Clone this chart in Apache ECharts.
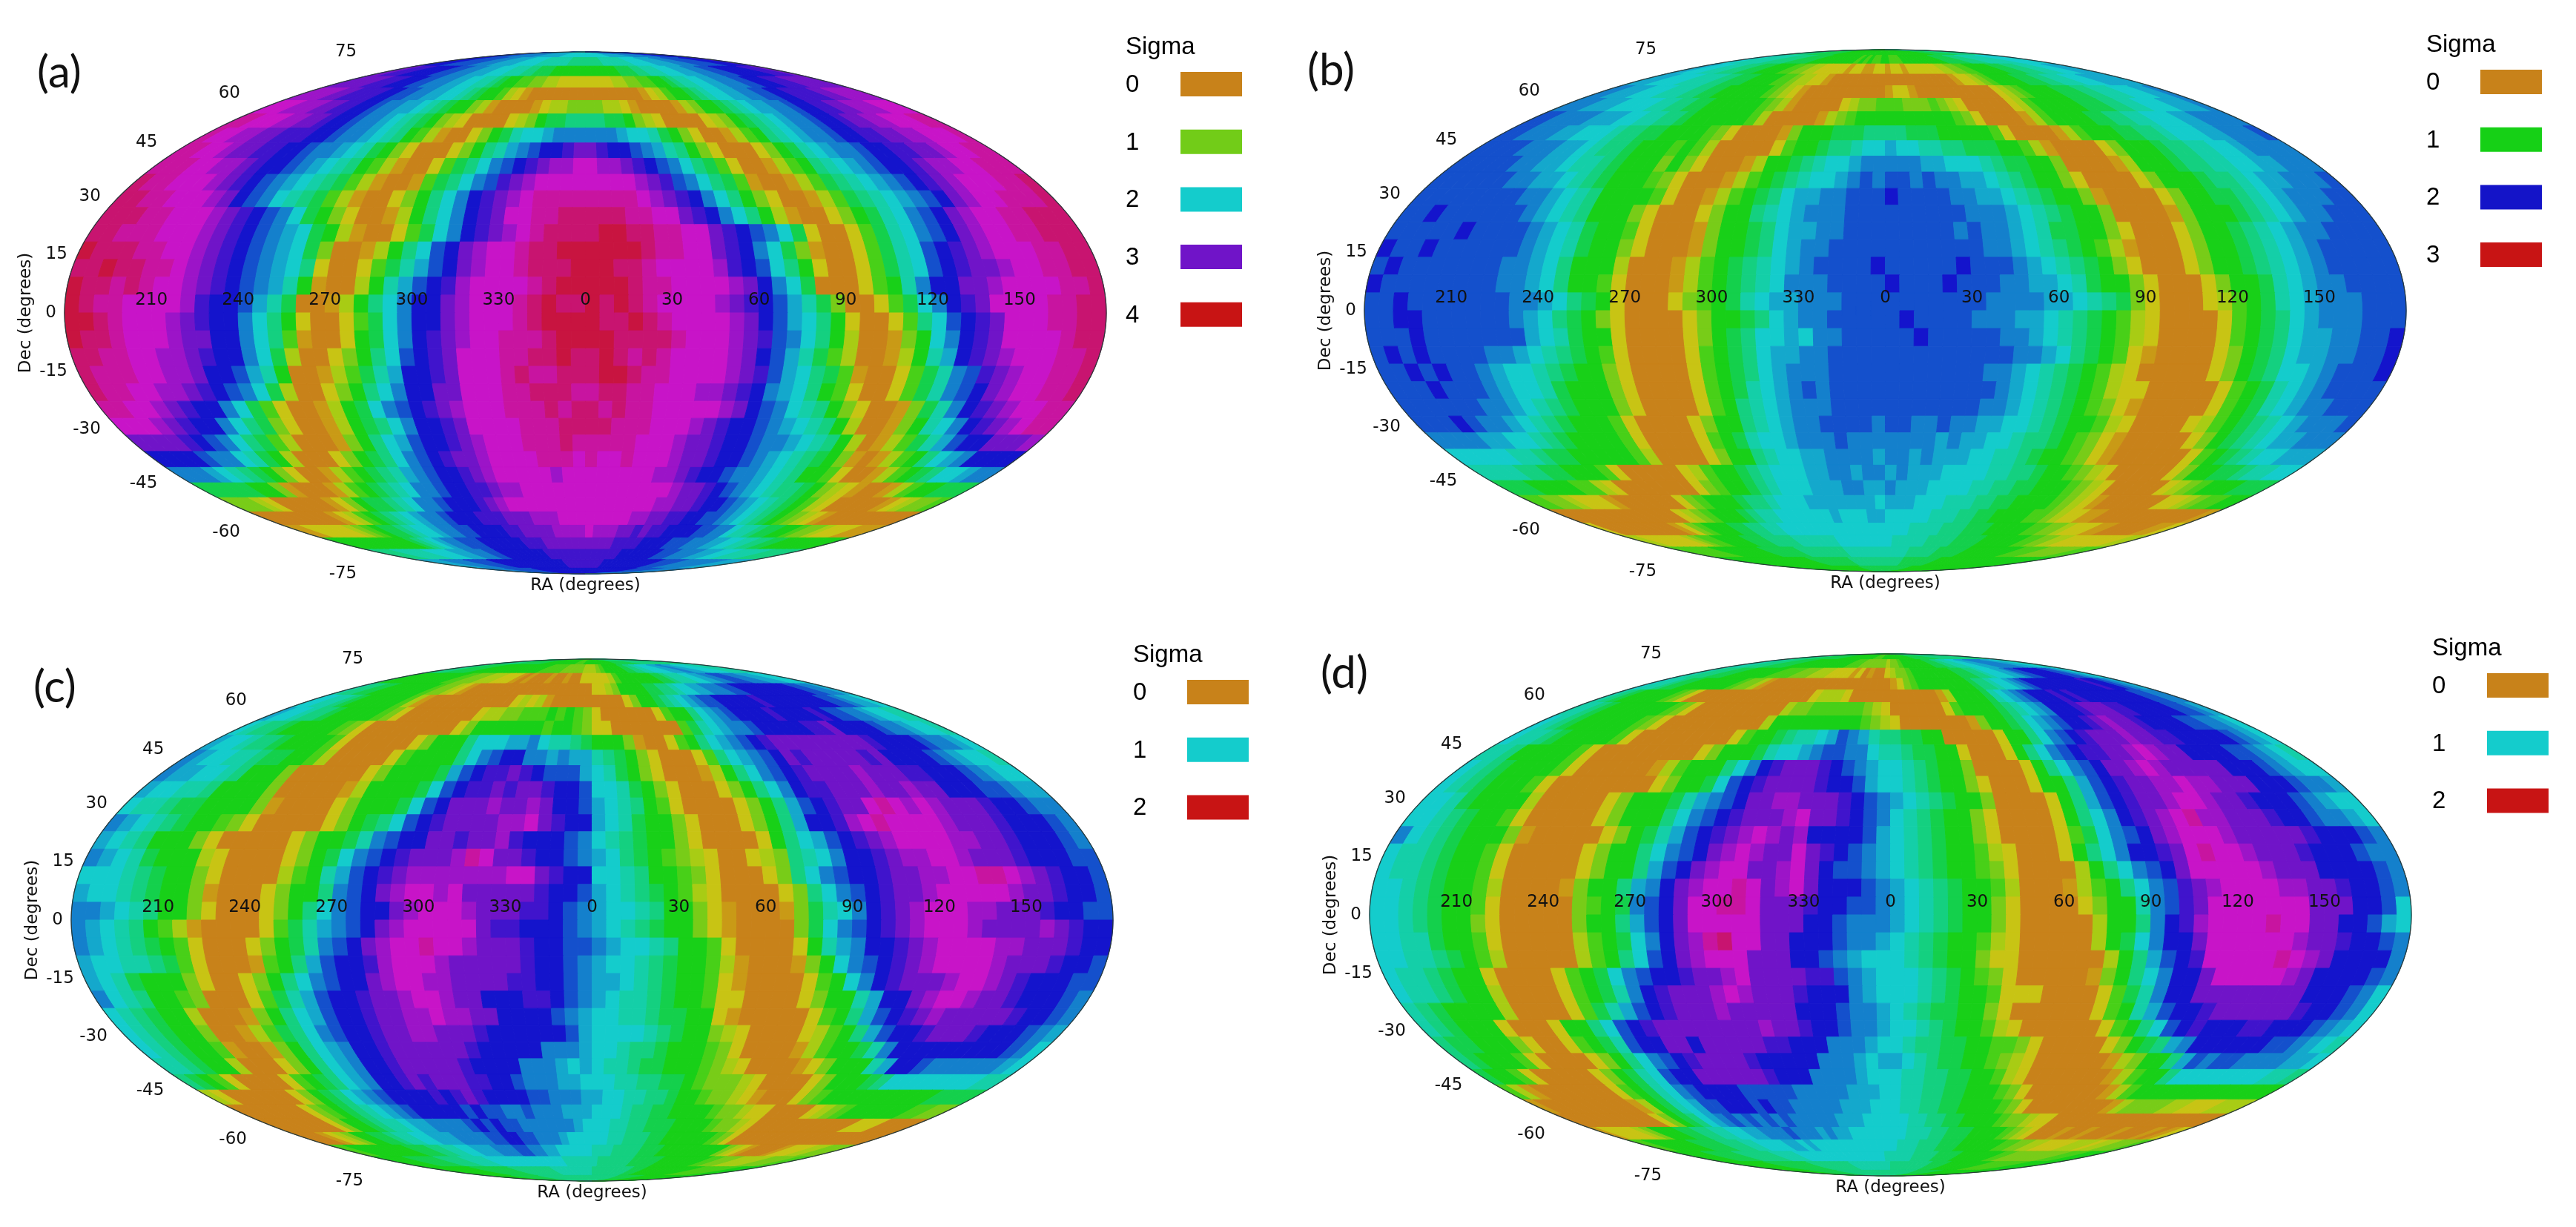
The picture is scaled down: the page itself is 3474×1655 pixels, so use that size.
<!DOCTYPE html>
<html>
<head>
<meta charset="utf-8">
<title>Sigma sky maps</title>
<script src="https://cdn.jsdelivr.net/npm/echarts@6/dist/echarts.min.js"></script>
<style>
html, body { margin: 0; padding: 0; background: #fff; }
#chart { width: 100vw; height: 100vh; }
</style>
</head>
<body>
<div id="chart"></div>
<script>
// tick labels
var raLabels = [[-150, '210'], [-120, '240'], [-90, '270'], [-60, '300'], [-30, '330'], [0, '0'], [30, '30'], [60, '60'], [90, '90'], [120, '120'], [150, '150']];
var decLabels = [75, 60, 45, 30, 15, 0, -15, -30, -45, -60, -75];

// colour levels, a = sigma 0 ... w = top of the scale
var levels = 'abcdefghijklmnopqrstuvw';
var levelColors = ['#c8821a', '#c99a16', '#c8c414', '#a8cc14', '#78cc18', '#48d018', '#18d018', '#14d04c', '#14d080', '#14cfa8', '#14cccc', '#14a8cc', '#1480cc', '#1450cc', '#1414cc', '#4014cc', '#7014c8', '#9c14c8', '#c814c8', '#c814a0', '#c81470', '#c81440', '#c81414'];

// legends
var sigmaA = ['0', '1', '2', '3', '4'];
var sigmaB = ['0', '1', '2', '3'];
var sigmaC = ['0', '1', '2'];
var sigmaD = ['0', '1', '2'];
var swatchA = ['#c8821a', '#72cc18', '#14cccc', '#7014c8', '#c81414'];
var swatchB = ['#c8821a', '#16d016', '#1414c8', '#c81414'];
var swatchC = ['#c8821a', '#14cccc', '#c81414'];
var swatchD = ['#c8821a', '#14cccc', '#c81414'];

// cells, north to south in 5 degree rows, lon -180 to 180 in 5 degree columns
var mapA = [
'ooooonnnn mmmmmmmmm lllllllll kkkkkkkkk kkkkkkkkk lllllllll mmmmmmmmm nnnnooooo',
'poooonnnn nnmmmmlll llkkkkkjj jjjjjiiii iiiijjjjj jjkkkkkll lllmmmmnn nnnnoooop',
'qqpppoooo onnnmmmll lkkkjjjii hhhgggggg gggggghhh iijjjkkkl llmmmnnno ooooopppq',
'qqqqqpppo oonnmmmll kkjjihggf feeddcccc ccccddeef fgghijjkk llmmmnnoo opppqqqqq',
'rrrrqqppp poonnmmll kkjihggfd cbaaaaaaa aaaaaaabc dfgghijkk llmmnnoop pppqqrrrr',
'sssrrrqqp poonmmllk jihggedba aaabcddee eeddcbaaa abdegghij kllmmnoop pqqrrrsss',
'ttsssrrqq poonmmlkj ihgedcaaa acdeghhii iihhgedca aaacdeghi jklmmnoop qqrrssstt',
'tssrrqqpp poonmmlkj igfdbaace ghjkklmmm mmmlkkjhg ecaabdfgi jklmmnoop pqqrrssst',
'ttssrqqpp oonmmlkjh gecaaaceg ijlmnoopq qpoonmlji gecaaaceg hjklmmnoo ppqqrsstt',
'tttssrrqp oonmlkjig fdbaacfhi kmnopqrrs srrqponmk ihfcaabdf gijklmnoo pqrrssttt',
'uttsssrqp onmlkjihf dbaabfhik mnpqrssss ssssrqpnm kihfbaabd fhijklmno pqrsssttu',
'uuttsssrq onmkjihfd baacegikm opqrstttt ttttsrqpo mkigecaab dfhijklmn oqrsstttu',
'uuuttsssr qponmkhge caabdgikm opqssttuu uuuttssqp omkigdbaa ceghjkmno qrssttuuu',
'uutttsssr qponmlkhg dbaacfhkm opqrstuuu uvvuuttss qponmkhca acfhjkmno qrssttuuu',
'vuuuttssr qponmlkhe aabdgikno qrsstuuvv vvvvuttss qpomkheba acfhjknop qrsssttuu',
'uuvuuttsr qponmlkic aacfhjlno qrsstuuuv vvuutssss rponkigca acfhjknop qqrssttuu',
'vuututssr qponmljgb aadgjlnop rsssstuvv vvvuttsss srqomkhaa acfgjmooq qrssssttu',
'vuttssssr poonljhaa bdgikmooq rssstuvuu vuvutssss rqponljhe aacfhkmop qssssttuu',
'vvutsssrq poomkigca acfhkmooq rssstuvvv vuuvutsss srqonlkig caacfikno pqsssttuu',
'vuutsssrq qoomkifba acghkmopq rsstttuvv vvuuuutss srqpnmkig daabegkmo pqsssstuu',
'uuttssrrq poomkhdaa cegiknopq sssttuuvu uvututsss srqonljhf daabdgjlo pqrsssttu',
'utttssrrq oonljgaab dfhjloopq ssstuttuu uvvuttsss srqpnlkih fbaacfhjm npqrssttu',
'uttssrrqp onmkhdaac egikmooqq sssttuuut tuuttsssr rqpomlkig fcaacfhjm noqrssttu',
'ttssrqpoo mkhfcaabd ghkmnopqr ssstttutu ututtssss srqonmkji gecaabehj mopqrsstt',
'sssrqpoom kihecaabd ghikmoopq sssstttuu uutttsssr qpoonmlkj igdaabegj kmopqrstt',
'qqqqponmk ihfdaaabe giklnoopq rssstttut ttttsssrq qpoonmmlk jigdabdfh jlnooqqqr',
'oooonmmkj hgdaaaceg hikmnopqq rssssttts tsstsssrq qpoonmlkj ihgebabdf giklmoooo',
'mmmlkjihg ecaabdfgh ijlmnoopq rsssssrss ssssssrrq poonmmlkj iggfcaabd fghikklmm',
'hhhhhggeb aaabdfghi jkmmnoopp qrrssssss ssssssssr qqponmlkj iihgedcba abdfgghhh',
'eeedcaaaa abceghhij kmmnooopq rssssssss sssssssrr qqpoonmlk jihgfdcaa aaabcdeef',
'aaaaaaaab cdfghijkl mmnoooppp qqqrrrsss sssssrrqq ppoonnmlk jihgfedcb aaaaaaaaa',
'bbcccccde fghhijkkl mmnnoooop pqqqqrrrr srrrqqpqp poooonnmm kjjihhggf eedcccbbb',
'ggggggggg gghijklmm nnnoooooo pppqqqqqq qqqqppppo ooonnnmmm llkkjjiih hgggggggg',
'iiiijjjjj kkkklllmm mnnoooooo ooppppppp ppppppooo oooonnnmm mmlllkkkj jjjjiiiii',
'lllllmmmm mnnnnnooo ooooooooo ooooppppp ppppooooo oooooooon nnnnmmmmm mmmmlllll',
'mmmmmmmmm nnnnnnnnn ooooooooo ooooooooo ooooooooo ooooooooo nnnnnnnnn mmmmmmmmm'
];

var mapB = [
'iiiiiiiii hhhhhhhhh ggggggggg ggggggggg ggggggggg ggggggggg hhhhhhhhh iiiiiiiii',
'kkkjjjjjj iiiiihhhh hgggggggg ggfgfgffg gfffggggg ggggghhhh hiiiijjjj jjjkkkkkk',
'llkkkjjji iihhhgggg ffeeddccc ccbccbbcc bccbccccc cddeeffgg ggghhhiii jjjkkklll',
'lllkkkkjj jjiihhhgg ggffeddcc baaaaaaaa aaaaaaaaa abccdefgg gghhhiijj jkkklllll',
'mmlllkkkj jjiihhggg gggfedcba aaaaaaaaa bccbaaaaa aaaaacdef gggghhhii jjjkkkllm',
'mmmlllkkk kjjiihhgg ggggfedba aaaacdeef ffeeefedc aaaaacdfg gggghhhii jjkkklllm',
'nnmmmmlll kkjjiihgg ggggfdaaa aabdefggg gggggggfe caaaabdfg ggghhiijj kkkllmmmm',
'nnmmmllkk kjiihhggg gfecaaaab eggghhhii iihhhgggg gfcaaaabd fggghhiij kkkllmmmn',
'nnnnmmmll kjiihgggf gfdaaaaac fgghiijkk lkkjjiihh hggfdbaaa aceggghii jjkklmmmm',
'nnnnnmmll kjjihggge gecaaabdg ghijkklmm mmmllkkkj ihhggeaaa abdggghii jjkkllmmm',
'nnnnnnmml lkjihgggf ecaaabdfg hijkklmnm nnmnmmllk jihggecaa aaceggghi ijkllmmmn',
'nnnnnnnnm mlkjigggg fcaabdfgh ikllmmnnn onnnnmmll kjihggeba aaacegghh ijklmmmnn',
'nnonnnnnn mlkjiggge caaaceggi jklmmmnnn nnnnnnmmm lkjihggea aaabegggh ijklmmnnn',
'nnnnnonnn nmlkjhggf caaabeggh ikllmmnnn nnnnnmnmm lkjhhggec aaacegghi jklmmnnnn',
'onnonnnnn nmlkjhgge caaabeggh iklmmnnnn nnnnnnnmm lkjihgfdb aaacegghi jklmnnnnn',
'nonnnnnnn mmlkigggd aaabdfghi jklmnnnno nnnnnonnn mlkjihgec aaacegghi jklmnnnnn',
'onnnnnnnn mmlkiggfc aaabdfghi jkmmmnnnn onnnonnnm mllkjhgge caaaceggh jklmmnnnn',
'nnonnnnnn nmmlkihgc aaacefghj kllmmmnnn nnnnnnnmm mmllkjihe caaacdfgh jklmmmnnn',
'nnoonnnnn nmlkihgec aaaaceggh iklmmnnnn nonnnnmmm llkjihgfd caaaacfgh iklmmmnnn',
'nnnonnnnn nnlkjhggc aaaaceghi kklkmmnnn nnonnnnnm mlkjihgfd caaaacfgh ikllmmnno',
'nononnnnm mlkjihgfc aaaacfghi kllmmnnnn nnnnnnnnn mmlkihgfc baaaacegh ikllmmnno',
'nnononnml kkjihggec aaaacfghi klmmmnnnn nnnnnnnmm lkjihgfdc aaaaacegh ikklmnnno',
'nnnonnnml kkjhgggec aaaacfghj klmnmnnnn nnnnnnnnm lkjihgfdc caaaaacfg hjklmnnnn',
'nnnnnnmml kjihgggec aaaacfgij klmmmnnnn nnnnnnnmm lkjihgfec baaaaacfg hjklmmnnn',
'nnnonmmlk jihgggfca aaaceggij klmmnnnnm nnmmnmmll kkjihggfd caaaacdfg hijklmmmn',
'mmmmllkkj ihggggfca aaacfghjk klmmmnmmm mmmmlmllk kjiihgfec baaaaaceg hijkllmmm',
'kkkkkjjih hgggggfda aaaceggij kkllmmmml mmlmlllkk jjihggfec baaaaaacf ghijkklll',
'jjjjiihhg ggfcaaaaa cdfgghijk kkllmmlmm lmlllkkkk jjiihggfe dcaaaaace gghhijjkk',
'hhhggggff dcaaaaaaa cefgghijk kklllmmll mlllkkkkj jiihhgggf edcaaaaac defggghhh',
'ffeedcccb aaaaaacef ggghiijkk klllllllk lllkkkjjj iihhggggf edcbaaaaa accdeffgg',
'aaaaaaaaa aaaacdefg gghijjkkk kkklkkkll kkkkkjjji ihhggggff edccbbaaa aaaaaaaab',
'caaaaaaaa abcefgggh hiijjkkkk kkkkkkkkk kkkjjjjii ihhhggggg ffeedcccb baaaaabbc',
'ddccccccd effgggghh hiiiijjjj jjkkkkkkk kjjjjjiii ihhhhgggg ggffeeddc cccccccdd',
'fffffffgg gggggghhh hhhiiiiii iijjjjjjj jjjjiiiii hhhhhgggg gggggffff eeeeeefff',
'ggggggggg ggggggggg ghhhhhhhh hiiiiiiii iiiihhhhh hhhgggggg ggggggggg ggggggggg',
'ggggggggg ggggggggg ggggggggg hhhhhhhhh hhhhhhhhh ggggggggg ggggggggg ggggggggg'
];

var mapC = [
'iiiiiiiii hhhhhhhhh ggggggggg gggfffggg ggggggggg hhhhhhhhh iiiiiiiii iiiiiiiii',
'iiiihhhhh ggggggggg ggggggfff ffeeeeedd defgggggh hiijjkkkk lllmmlllk kkkkjjjjj',
'hgggggggg ggffeeedd dcccbabaa abaabaacc cccdfgggg ggghhijjj kkllmmnnn mmmlllkkk',
'jiihhgggg gggfeedcb aaaaaaaaa aaaaaaaaa ccdeggggh hiijkkllm mmnnooooo oooonnmml',
'kkjjihggg gggfdbaaa aaaaaaaac dcdbaaaaa aaaaceggh ijklmnnoo ooopooooo ooonnmllk',
'lkkjiihgg gggfecaaa aaaaacdde efffgfgfe caaaaaacf ggiklmnoo oopoooopo nnmmlkkjj',
'kjiihgggg gfecaaaaa aaaaceggg ggggfggfe ccaaaaaaa fhjklmmno ooooppqoo oonmmlkkj',
'lkkjiihgg ggfcaaaaa acegggikk kllmkjjih gggebaacf giklmnopq qqqqqqqqp oooonmmlk',
'mlkkjjihh ggfdaaaaa cfggggikm noommlmll jihgecaaa cfiklmnoq pqqqqqpqo ooonmlkkj',
'mllkkjigg geaaaaaac egggghlno ppqponnnl kjhgecaaa bdgikmnop qqqqrqqqp pooonmlkk',
'lkkjjiggg geaaaaabd gggghknop pqpqqpoon kkjhgecaa acegikmop pqqqrqqrq qooonnmll',
'kjjihhggg gebaaaace ggghknoqq qrqqrqoon lkjigfcaa aacegilno pqqstsrsr qqqpoonmm',
'mlkjihggf ecaaaaace ghiknopqq qqrrsqpoo lkjhggeca aacegiloo prstssssr qqqpooonm',
'lkjigggec aaaaacegg hjmnooqqp qqrpooonm kjihggeca aaacgikln opqrssssr rqqpooonm',
'mlkjhgggd caaaacegh kmnopqqqr tsqqpoonm lkihgfedc aacdeijkm oopqrrssr qqqpooonn',
'kkkjihgge caaaadfgj lnopqrrrr rrrssqpoo kkjiggfec aaaceikmn oopqqrrss ttsrqpoon',
'lkkjihgge baaaceggi mnoqrssrs qqqqqpoon lkjihgfdc aaaaceikm nopqqrsss ssrqqpoon',
'mmlkjigge caaacegik mnooqrsss rqqqpponm lkkjiggec baaabehjk mopqrsssr rqqqpoonn',
'mlkjigfdb aaaacfhjl mnoqrssss sqppooonm lkjihggec baaaaehkm nopqrsssr qqqqrqpoo',
'mlkjihgfc aaaceghjm noqrsstss rqqqpoonn mlkkjiggf caaaacgjl moopqrsss srrqqqpoo',
'lkkjjihfc aaabfgiln ooprsssrq qqqqpoonm lkkjihggf dbaaabegk mnopqrsss srqqqpoon',
'lkjhgggec aacegikmn ooqrssrrq qqqppoonm llkjihggf cbaaaacfg kmopqqqrs srqpooonn',
'mkjiggfea aacfhjlno opqqrssrq qooopponm lkjjihggf ccaaaaceg gjlooqrss rqqpooonm',
'kjihggdaa abegiklno opqqrrsrr qqoooonml kkjjihhgg cbaaaaacf gilnopqrq qqqqpoonm',
'kjihggeaa bdfhikmno opqqrrqqq poooooonl kkkkjihgg edcaaaacd fgilnoopq qqpooonml',
'kjihggfba abegiklmo opqqqqqqp ooooommml kkjiihggg fecaaaabd fgghjmooo oooooonmk',
'jjihggdaa acegiklmo opqqqqqpo ooommmlkl kjjihhggg fedcaaaab cegggjloo nmmmmmmlk',
'ihgfcaaaa cfghiklmo opqpqqqpp oonmmmllk kkjjiihhg feeedcaaa aceggghik kkkkkkkjj',
'dcaaaaaac eghiklmno ooopopqpo ooonnmmml lkkjjiihg gfeedcbaa acefggggg ggggghhhh',
'aaaaaaace fghijklmn ooooononn mmnmmmlll kkkjiihhg gggfeedcc aaaacdefg gggggffee',
'aaaaaaace gghijjkll mmmmnonon nmmmmmmlk kkjjiihhh ggggfeedc aaaaaaaaa aacccaaaa',
'aaabcdegg hhijjkkll lmmmmnnoo nnmmmlkkk kkjjiiihh ggggggfec aaaaaaaaa aaaaaaaaa',
'ffggggggg ghhhiijjk klllmmmnn mmllkkkkk jjjiiiihh hgggggggg gedcbaaaa bcccddeee',
'ggggghhhh hiiiijjjj kkkkkkkkk kkkkjjjjj jiiiiiihh hhhgggggg ggffeeedd dddeeeeff',
'ggggggggg ghhhhhhhh iiiiiiiii jjjjjjjjj iiiiiiiii hhhgggggg ggggggfff fffffgggg',
'ggggggggg hhhhhhhhh iiiiiiiii iiiiiiiii iiiiiiiii hhhhhhhhh ggggggggg ggggggggg'
];

var mapD = [
'iiiiiiiii hhhhhhhhh ggggggggg gggfffggg ggggggggg hhhhhhhhh iiiiiiiii iiiiiiiii',
'jjjjiiiih hhhhggggg ggggggggf ffeeeeeed eefgggggg ghhhiijjj kkklllmmm mmmlllkkj',
'jjiiihhhg ggggggfff feeedddcc ccbcabaac deefggggg ggghhhiij kkkllmnno oooonnmlk',
'kjjihhggg ggggfeedb aaaaaaaaa aaaaaaaaa bcefggggg ggghiijkk lmnoooooo ooopoonml',
'jihgggggf ecaaaaaaa aaaaaaaac dddcaaaaa aaaaaabdg ggghjklmn ooopopooo ooooonnmm',
'jjihggggg ggfecaaaa aaaaaadee ffffffedc aaaaaacfg ggghijklm ooopqqqpp ooooonnml',
'kjihggggg gfecaaaaa aaaaadggg ggggggfed caaaaaaab egghiklmn oopqrqqpo ooonnmmlk',
'kjjihgggg gfcaaaaaa aaacfgghi jjklnmlji ihhggaaaa acggikmno pqqqrqqpp ooooonmlk',
'jjigggggf caaaaaaaa aceggghjk klmnnmmkj jihhggcaa acgikmnop pqqrsrqqo ooonnmlkj',
'kjihggggf caaaaaabd fgggikmop qqqponmlk kjihggeaa aacgikmno qqrsrqqqq qooonmlkk',
'kjihgggfc aaaaaaaac egghknopq qqqpoonlk kjihggeca aacggilno pqqrrsrrq qqooonmml',
'kkjhggggd aaaaacegg ghjlmnoqq rrqqqponm lkjihggea aaacgilno pqqrssrqq pooonmlkk',
'kkjihggfc aaaaacegg gikmnopqq qrsqqponm kjihggeca aaacgikmo pqrstrrqq qpoonmmlk',
'mkjihggge baaaaaceg hjlnopqrs rqroooonl kjihggeca aaacfhkmn oqrsssrqq qqqpooonm',
'kjjihggfc aaaaacegg ikmnoqrsr qqsqponml kjihggfdc aaacgikmo opqstssrq qqpooonmm',
'kjjihggfc aaaaacegg ilnoqrssq qrsqonnml kjihggfec aaaadgikm noqsssssr qqqoooonm',
'kkjihggfd aaaabeggi lmoqrssts qrsqooonm lkjihggfd aaabdfgik mnpqrssss rrqqpoonm',
'kkjihggfc aaaaaefgh mnoqsstts qqqpoonnm lkjihggec aaaaceggj mnpqsssss ssqqqoonk',
'kkjihggec aaaaaeggi lnoqsssss qqqoonmmm lkjihggec aaaaadggi moprsssst ssqqoonlk',
'kkjjhggfc aaaaadfgh kmoqrtuss qqooonmml kjihggfdc aaaaadghk mooqsssss srqqpoonm',
'kkjjihgfd aaaaadfgi knoqrsssq qqoonmlkk kjihggecc aaaaaadgi lnopsssss tsrqoooom',
'kjjihggca aaacfghkm noopqqrsq qqqppnmlk kkjihgfec aaaaabegi kmooqssss srqoooonm',
'kjjihggda aaacfghjm opqqqrsrq qqpooomlk kkjihggfc ccaaaacfh jmooqqqqq qqqooonmk',
'jihggggda aaacfhjln opqqqrqqq qqooonmml kjihhggec aaaaaacfg jlnoopqqq qqqpoonmk',
'jihgggcaa acggiknop qqqqqqqqr qqpoonmml kkjihggfd caaaaaacf giknopooo ppooonmlk',
'ihhgggeca acfghjnoo qqoqqqqqp pooommmlk kjiihhggf fecaaaaac eghilmooo ooonnmlkj',
'ihgggfcaa aacegikmn opqqqqpoo ooommmlkl lkjihhggf edcaaaaaa bdeggilnm nnmmmmllk',
'hggfcaaaa aceghjkno oqqqqqqpo oommmmlkk kjjiihhgg fdcaaaaaa abdfggikk kkkkkkjji',
'fdbaaaaaa acfghjkmn oooonnnnn mmmmmlllk kjjiihhgg gfecaaaaa aabdfgggg ggggggggg',
'baaaaaaaa abdghjkln nooononnm mmmmlllkk kjjiihhgg ggfecaaaa aaaabdeee eddcccddd',
'aaaaaaaaa aceghiklm nmnmnmnmm mmmlllkkk kkjjiihhg gggfeedcc aaaaaaaaa aaaaaaaaa',
'bccccdegg ghhiijjkk llmmmnmmm lmllkkkkk kkjjjiihh hggggfedc aaabaabaa abaaababc',
'ffggggggh hhhiiijjk kkkllklkk kkkkkkkkk kjjjiiihh hggggggff eeddccccd ddcddeeef',
'ggggghhhh hiiiiiijj jjkkkkkkk kkkkkkkkj jjjjiiiih hhhgggggg gffeeeeee eeefffggg',
'ggggggggg hhhhhhhhh iiiiiiiii jjjjjjjjj iiiiiiiii hhhhggggg ggggfffff fffgggggg',
'ggggggggg hhhhhhhhh iiiiiiiii iiiiiiiii iiiiiiiii hhhhhhhhh ggggggggg ggggggggg'
];

// layout of the four panels, in page pixels
var panels = [
    { tag: '(a)', rows: mapA, sigma: sigmaA, swatch: swatchA, left: 87, top: 70, tagX: 85, tagY: 106, textX: 1518, boxX: 1592, boxY: 97 },
    { tag: '(b)', rows: mapB, sigma: sigmaB, swatch: swatchB, left: 1840, top: 67, tagX: 1798, tagY: 103, textX: 3272, boxX: 3345, boxY: 94 },
    { tag: '(c)', rows: mapC, sigma: sigmaC, swatch: swatchC, left: 96, top: 889, tagX: 80, tagY: 935, textX: 1528, boxX: 1601, boxY: 917 },
    { tag: '(d)', rows: mapD, sigma: sigmaD, swatch: swatchD, left: 1847, top: 882, tagX: 1816, tagY: 916, textX: 3280, boxX: 3354, boxY: 908 }
];
var mapWidth = 1405, mapHeight = 704;

// Mollweide auxiliary angle for a declination, cached
var thetaCache = {};
function thetaOf(dec) {
    if (thetaCache[dec] !== undefined) return thetaCache[dec];
    var phi = dec * Math.PI / 180;
    var t = phi;
    if (Math.abs(dec) < 90) {
        for (var i = 0; i < 60; i++) {
            t = t - (2 * t + Math.sin(2 * t) - Math.PI * Math.sin(phi)) / (2 + 2 * Math.cos(2 * t));
        }
    }
    thetaCache[dec] = t;
    return t;
}
// axis units: x runs -180..180 and y -90..90 across the ellipse
function project(lon, dec) {
    var t = thetaOf(dec);
    return [lon * Math.cos(t), 90 * Math.sin(t)];
}

function cellData(rows, sigmaMax) {
    var out = [];
    rows.forEach(function (row, r) {
        var s = row.replace(/ /g, '');
        var w = 360 / s.length;
        for (var c = 0; c < s.length; c++) {
            var sigma = levels.indexOf(s[c]) / 22 * sigmaMax;
            out.push([-180 + c * w, -180 + (c + 1) * w, 85 - r * 5, sigma]);
        }
    });
    return out;
}

function renderCell(params, api) {
    var lon0 = api.value(0), lon1 = api.value(1), dec0 = api.value(2);
    var pts = [], k;
    for (k = 0; k <= 4; k++) pts.push(api.coord(project(lon0, dec0 + k * 1.25)));
    for (k = 4; k >= 0; k--) pts.push(api.coord(project(lon1, dec0 + k * 1.25)));
    var color = api.visual('color');
    return {
        type: 'polygon',
        shape: { points: pts },
        style: { fill: color, stroke: color, lineWidth: 1 }
    };
}

function renderRa(params, api) {
    var p = api.coord([api.value(0), 0]);
    return {
        type: 'text',
        x: p[0], y: p[1] - 17,
        style: { text: raLabels[params.dataIndex][1], fill: '#111', font: '23px "DejaVu Sans"', align: 'center', verticalAlign: 'middle' }
    };
}

function renderDec(params, api) {
    var dec = api.value(0);
    var p = api.coord(project(-180, dec));
    return {
        type: 'text',
        x: p[0] - 11, y: p[1] - 36 * Math.sin(thetaOf(dec)),
        style: { text: String(dec), fill: '#111', font: '23px "DejaVu Sans"', align: 'right', verticalAlign: 'middle' }
    };
}

var grids = [], xAxes = [], yAxes = [], series = [], visualMaps = [], graphics = [];

var outline = [];
for (var a = 0; a <= 360; a += 2) {
    var ang = a * Math.PI / 180;
    outline.push([180 * Math.cos(ang), 90 * Math.sin(ang)]);
}

panels.forEach(function (p, i) {
    grids.push({ left: p.left, top: p.top, width: mapWidth, height: mapHeight });
    xAxes.push({
        gridIndex: i, type: 'value', min: -180, max: 180,
        name: 'RA (degrees)', nameLocation: 'middle', nameGap: 5,
        nameTextStyle: { fontFamily: 'DejaVu Sans', fontSize: 23, color: '#111', verticalAlign: 'top' },
        axisLine: { show: false }, axisTick: { show: false }, axisLabel: { show: false }, splitLine: { show: false }
    });
    yAxes.push({
        gridIndex: i, type: 'value', min: -90, max: 90,
        name: 'Dec (degrees)', nameLocation: 'middle', nameGap: 40, nameRotate: 90,
        nameTextStyle: { fontFamily: 'DejaVu Sans', fontSize: 23, color: '#111' },
        axisLine: { show: false }, axisTick: { show: false }, axisLabel: { show: false }, splitLine: { show: false }
    });

    var sigmaMax = p.sigma.length - 1;
    visualMaps.push({
        type: 'continuous', show: false, seriesIndex: series.length, dimension: 3,
        min: 0, max: sigmaMax, inRange: { color: levelColors }
    });
    series.push({
        type: 'custom', xAxisIndex: i, yAxisIndex: i, coordinateSystem: 'cartesian2d',
        data: cellData(p.rows, sigmaMax), renderItem: renderCell,
        encode: { x: 0, y: 2 }, silent: true, animation: false, progressive: 0, clip: false, z: 2
    });
    series.push({
        type: 'line', xAxisIndex: i, yAxisIndex: i, data: outline, showSymbol: false, silent: true,
        animation: false, clip: false, lineStyle: { color: '#2a3a3a', width: 1.3 }, z: 3
    });
    series.push({
        type: 'custom', xAxisIndex: i, yAxisIndex: i, coordinateSystem: 'cartesian2d',
        data: raLabels.map(function (d) { return [d[0]]; }), renderItem: renderRa,
        encode: { x: 0 }, silent: true, animation: false, clip: false, z: 4
    });
    series.push({
        type: 'custom', xAxisIndex: i, yAxisIndex: i, coordinateSystem: 'cartesian2d',
        data: decLabels.map(function (d) { return [d]; }), renderItem: renderDec,
        encode: { y: 0 }, silent: true, animation: false, clip: false, z: 4
    });

    // panel letter and legend
    graphics.push({ type: 'text', left: p.tagX - 35, top: p.tagY - 37, style: { text: p.tag, font: '60px Lato', fill: '#111' } });
    graphics.push({ type: 'text', x: p.textX, y: p.boxY - 33.5, style: { text: 'Sigma', font: '33px "Liberation Sans"', fill: '#000', verticalAlign: 'middle' } });
    p.sigma.forEach(function (label, k) {
        var y = p.boxY + k * 77.7;
        graphics.push({ type: 'text', x: p.textX, y: y + 18, style: { text: label, font: '33px "Liberation Sans"', fill: '#000', verticalAlign: 'middle' } });
        graphics.push({ type: 'rect', shape: { x: p.boxX, y: y, width: 83, height: 33 }, style: { fill: p.swatch[k] } });
    });
});

var chart = echarts.init(document.getElementById('chart'));
chart.setOption({
    backgroundColor: '#ffffff',
    animation: false,
    grid: grids,
    xAxis: xAxes,
    yAxis: yAxes,
    visualMap: visualMaps,
    series: series,
    graphic: graphics
});
</script>
</body>
</html>
